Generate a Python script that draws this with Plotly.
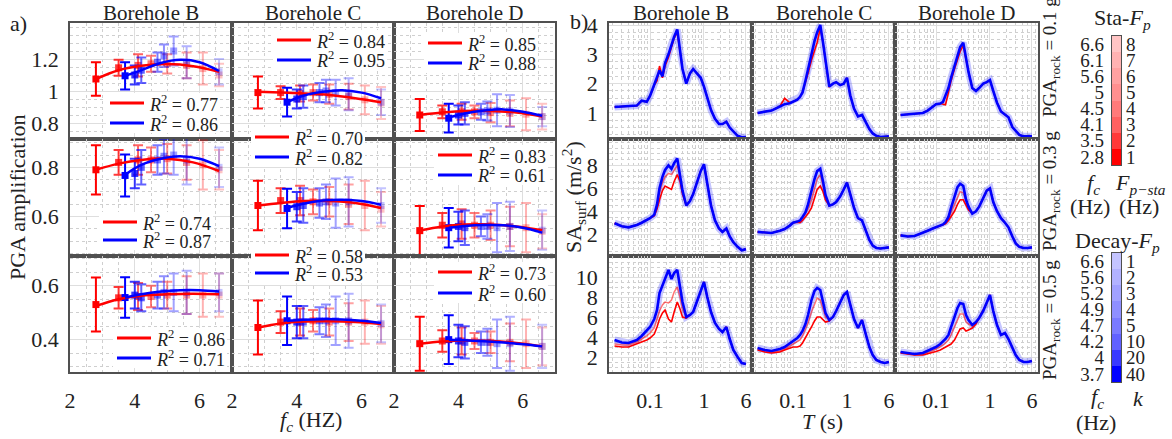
import plotly.graph_objects as go

W, H = 1172, 439
FONT = "Liberation Serif"
TXT = "#222222"

# ---------------- data: panel a) PGA amplification vs f_c ----------------
FC_STA = [2.8, 3.5, 4.1, 4.5, 5.0, 5.6, 6.1, 6.6]
FP_STA = [1, 2, 3, 4, 5, 6, 7, 8]
FC_DECAY = [3.7, 4.0, 4.2, 4.7, 4.9, 5.2, 5.6, 6.6]
K_DECAY = [40, 20, 10, 5, 4, 3, 2, 1]
BOREHOLES = ["Borehole B", "Borehole C", "Borehole D"]
PGA_ROCK = ["0.1", "0.3", "0.5"]
FIT_FC_STA = [2.8, 3.5, 4.2, 5.0, 5.8, 6.6]
FIT_FC_DECAY = [3.7, 4.2, 4.8, 5.4, 6.0, 6.6]

# PGA_rock = 0.1 g
AMP_STA_R1_B = [1.075, 1.145, 1.16, 1.17, 1.17, 1.16, 1.14, 1.10]
ERR_STA_R1_B = [0.105, 0.05, 0.07, 0.05, 0.06, 0.08, 0.10, 0.07]
AMP_DEC_R1_B = [1.095, 1.10, 1.13, 1.18, 1.22, 1.25, 1.18, 1.12]
ERR_DEC_R1_B = [0.085, 0.06, 0.08, 0.06, 0.07, 0.09, 0.10, 0.08]
FIT_STA_R1_B = [1.075, 1.13, 1.158, 1.168, 1.155, 1.12]
FIT_DEC_R1_B = [1.094, 1.13, 1.175, 1.195, 1.18, 1.125]

AMP_STA_R1_C = [0.99, 0.99, 0.985, 0.99, 0.98, 0.965, 0.945, 0.925]
ERR_STA_R1_C = [0.10, 0.04, 0.05, 0.05, 0.06, 0.08, 0.09, 0.10]
AMP_DEC_R1_C = [0.93, 0.95, 0.965, 0.99, 1.0, 0.99, 0.98, 0.93]
ERR_DEC_R1_C = [0.09, 0.06, 0.07, 0.06, 0.07, 0.08, 0.10, 0.08]
FIT_STA_R1_C = [0.995, 0.99, 0.985, 0.975, 0.955, 0.93]
FIT_DEC_R1_C = [0.93, 0.97, 0.995, 1.005, 0.99, 0.955]

AMP_STA_R1_D = [0.85, 0.87, 0.87, 0.87, 0.865, 0.86, 0.855, 0.84]
ERR_STA_R1_D = [0.10, 0.04, 0.05, 0.04, 0.06, 0.08, 0.10, 0.08]
AMP_DEC_R1_D = [0.83, 0.85, 0.86, 0.87, 0.875, 0.88, 0.875, 0.84]
ERR_DEC_R1_D = [0.09, 0.06, 0.07, 0.05, 0.06, 0.10, 0.10, 0.06]
FIT_STA_R1_D = [0.85, 0.865, 0.875, 0.875, 0.865, 0.84]
FIT_DEC_R1_D = [0.835, 0.86, 0.878, 0.885, 0.87, 0.845]

# PGA_rock = 0.3 g
AMP_STA_R2_B = [0.79, 0.82, 0.83, 0.83, 0.835, 0.82, 0.81, 0.79]
ERR_STA_R2_B = [0.10, 0.05, 0.06, 0.05, 0.06, 0.07, 0.10, 0.08]
AMP_DEC_R2_B = [0.767, 0.775, 0.80, 0.83, 0.845, 0.85, 0.83, 0.80]
ERR_DEC_R2_B = [0.085, 0.06, 0.07, 0.06, 0.07, 0.08, 0.10, 0.08]
FIT_STA_R2_B = [0.79, 0.815, 0.83, 0.835, 0.82, 0.785]
FIT_DEC_R2_B = [0.77, 0.81, 0.835, 0.845, 0.835, 0.805]

AMP_STA_R2_C = [0.645, 0.665, 0.665, 0.66, 0.66, 0.65, 0.645, 0.63]
ERR_STA_R2_C = [0.10, 0.05, 0.06, 0.05, 0.06, 0.08, 0.10, 0.07]
AMP_DEC_R2_C = [0.633, 0.64, 0.645, 0.655, 0.66, 0.655, 0.66, 0.645]
ERR_DEC_R2_C = [0.08, 0.06, 0.07, 0.06, 0.07, 0.10, 0.10, 0.07]
FIT_STA_R2_C = [0.645, 0.655, 0.663, 0.663, 0.655, 0.635]
FIT_DEC_R2_C = [0.635, 0.652, 0.665, 0.668, 0.663, 0.648]

AMP_STA_R2_D = [0.543, 0.565, 0.57, 0.565, 0.565, 0.56, 0.555, 0.54]
ERR_STA_R2_D = [0.10, 0.05, 0.06, 0.05, 0.06, 0.08, 0.10, 0.07]
AMP_DEC_R2_D = [0.555, 0.56, 0.555, 0.56, 0.56, 0.555, 0.56, 0.545]
ERR_DEC_R2_D = [0.08, 0.06, 0.07, 0.04, 0.05, 0.10, 0.10, 0.08]
FIT_STA_R2_D = [0.543, 0.56, 0.568, 0.568, 0.56, 0.545]
FIT_DEC_R2_D = [0.555, 0.562, 0.566, 0.565, 0.555, 0.535]

# PGA_rock = 0.5 g
AMP_STA_R3_B = [0.53, 0.555, 0.56, 0.56, 0.565, 0.565, 0.565, 0.565]
ERR_STA_R3_B = [0.10, 0.04, 0.05, 0.04, 0.05, 0.07, 0.08, 0.08]
AMP_DEC_R3_B = [0.556, 0.565, 0.555, 0.565, 0.575, 0.575, 0.575, 0.575]
ERR_DEC_R3_B = [0.075, 0.05, 0.05, 0.05, 0.06, 0.07, 0.08, 0.07]
FIT_STA_R3_B = [0.525, 0.55, 0.563, 0.568, 0.57, 0.568]
FIT_DEC_R3_B = [0.555, 0.568, 0.578, 0.583, 0.583, 0.578]

AMP_STA_R3_C = [0.445, 0.465, 0.465, 0.47, 0.465, 0.465, 0.465, 0.455]
ERR_STA_R3_C = [0.10, 0.04, 0.05, 0.04, 0.05, 0.07, 0.08, 0.07]
AMP_DEC_R3_C = [0.47, 0.465, 0.465, 0.47, 0.47, 0.47, 0.47, 0.46]
ERR_DEC_R3_C = [0.09, 0.06, 0.06, 0.05, 0.06, 0.09, 0.10, 0.07]
FIT_STA_R3_C = [0.445, 0.46, 0.467, 0.468, 0.465, 0.458]
FIT_DEC_R3_C = [0.47, 0.474, 0.476, 0.475, 0.47, 0.462]

AMP_STA_R3_D = [0.385, 0.395, 0.395, 0.395, 0.39, 0.39, 0.385, 0.375]
ERR_STA_R3_D = [0.10, 0.04, 0.05, 0.03, 0.04, 0.07, 0.09, 0.07]
AMP_DEC_R3_D = [0.40, 0.395, 0.39, 0.39, 0.39, 0.385, 0.385, 0.375]
ERR_DEC_R3_D = [0.09, 0.06, 0.06, 0.04, 0.05, 0.09, 0.10, 0.08]
FIT_STA_R3_D = [0.385, 0.393, 0.397, 0.395, 0.388, 0.375]
FIT_DEC_R3_D = [0.40, 0.398, 0.394, 0.389, 0.383, 0.375]

R2_STA_R1 = [0.77, 0.84, 0.85]
R2_DEC_R1 = [0.86, 0.95, 0.88]
R2_STA_R2 = [0.74, 0.70, 0.83]
R2_DEC_R2 = [0.87, 0.82, 0.61]
R2_STA_R3 = [0.86, 0.58, 0.73]
R2_DEC_R3 = [0.71, 0.53, 0.60]

# ---------------- data: panel b) surface spectra ----------------
T_GRID = [0.022, 0.03, 0.04, 0.057, 0.07, 0.087, 0.1, 0.12, 0.135, 0.15, 0.17, 0.19,
          0.22, 0.25, 0.28, 0.32, 0.36, 0.4, 0.47, 0.55, 0.63, 0.75, 0.87, 1.0,
          1.15, 1.35, 1.6, 1.9, 2.2, 2.6, 3.0, 3.5, 4.2, 5.0, 6.0]

SA_R1_B_DEC = [1.20, 1.21, 1.22, 1.25, 1.42, 1.38, 1.58, 1.95, 2.2, 2.45, 2.25, 2.7, 3.0, 3.35, 3.6, 3.85, 3.1, 2.5,
               2.0, 2.35, 2.5, 2.35, 2.2, 1.9, 1.5, 1.1, 0.8, 0.62, 0.62, 0.7, 0.5, 0.36, 0.22, 0.17, 0.18]
SA_R1_B_STA1 = [1.20, 1.21, 1.22, 1.25, 1.42, 1.38, 1.58, 1.95, 2.1, 2.6, 2.2, 2.6, 2.9, 3.3, 3.55, 3.75, 3.1, 2.5,
                2.0, 2.35, 2.5, 2.35, 2.2, 1.9, 1.5, 1.1, 0.8, 0.62, 0.62, 0.7, 0.5, 0.36, 0.22, 0.17, 0.18]
SA_R1_C_DEC = [1.0, 1.03, 1.08, 1.22, 1.3, 1.33, 1.38, 1.45, 1.55, 1.7, 2.1, 2.5, 3.1, 3.45, 3.75, 4.0, 3.4, 2.75,
               1.9, 2.0, 2.05, 1.95, 2.0, 2.2, 1.6, 1.15, 0.88, 0.93, 0.7, 0.45, 0.3, 0.22, 0.18, 0.18, 0.2]
SA_R1_C_STA1 = [1.0, 1.03, 1.08, 1.22, 1.5, 1.35, 1.38, 1.45, 1.55, 1.7, 2.1, 2.35, 2.8, 3.1, 3.4, 3.9, 3.4, 2.75,
                1.9, 2.0, 2.05, 1.95, 2.0, 2.2, 1.6, 1.15, 0.88, 0.93, 0.7, 0.45, 0.3, 0.22, 0.18, 0.18, 0.2]
SA_R1_D_DEC = [0.93, 0.95, 0.97, 1.0, 1.08, 1.22, 1.3, 1.32, 1.38, 1.6, 1.85, 2.2, 2.6, 2.95, 3.25, 3.4, 2.8, 2.4,
               1.85, 1.75, 1.85, 2.0, 2.05, 2.12, 1.75, 1.35, 1.05, 0.95, 0.85, 0.52, 0.38, 0.25, 0.2, 0.2, 0.2]
SA_R1_D_STA1 = [0.93, 0.95, 0.97, 1.0, 1.08, 1.22, 1.3, 1.32, 1.3, 1.28, 1.7, 2.1, 2.5, 2.85, 3.1, 3.3, 2.8, 2.4,
                1.85, 1.75, 1.85, 2.0, 2.05, 2.12, 1.75, 1.35, 1.05, 0.95, 0.85, 0.52, 0.38, 0.25, 0.2, 0.2, 0.2]

SA_R2_B_DEC = [2.96, 2.7, 2.6, 2.8, 3.0, 3.2, 3.4, 3.7, 4.6, 6.0, 7.0, 7.6, 8.0, 7.7, 8.2, 8.6, 7.2, 5.8,
               4.5, 4.9, 5.5, 6.5, 7.5, 8.1, 6.4, 4.5, 3.2, 2.5, 2.2, 2.5, 1.8, 1.3, 0.9, 0.6, 0.7]
SA_R2_B_STA1 = [2.96, 2.7, 2.6, 2.8, 3.0, 3.2, 3.4, 3.6, 4.2, 5.0, 5.8, 6.2, 6.0, 5.9, 6.6, 7.2, 6.6, 5.5,
                4.5, 4.9, 5.5, 6.5, 7.5, 8.1, 6.4, 4.5, 3.2, 2.5, 2.2, 2.5, 1.8, 1.3, 0.9, 0.6, 0.7]
SA_R2_B_STA2 = [2.96, 2.7, 2.6, 2.8, 3.0, 3.2, 3.4, 3.7, 4.5, 5.6, 6.5, 7.0, 7.3, 7.2, 7.6, 8.0, 7.0, 5.7,
                4.5, 4.9, 5.5, 6.5, 7.5, 8.1, 6.4, 4.5, 3.2, 2.5, 2.2, 2.5, 1.8, 1.3, 0.9, 0.6, 0.7]
SA_R2_C_DEC = [2.2, 2.15, 2.1, 2.3, 2.45, 2.75, 3.0, 3.1, 3.2, 3.5, 3.9, 4.6, 5.8, 6.8, 7.5, 7.7, 6.6, 5.4,
               4.5, 4.6, 4.8, 5.3, 5.9, 6.5, 5.5, 4.3, 3.4, 3.2, 2.4, 1.5, 1.0, 0.8, 0.75, 0.8, 0.85]
SA_R2_C_STA1 = [2.2, 2.15, 2.1, 2.3, 2.45, 2.75, 3.0, 3.05, 3.0, 3.2, 3.5, 3.8, 4.3, 5.2, 5.9, 6.2, 5.7, 5.0,
                4.5, 4.6, 4.8, 5.3, 5.9, 6.5, 5.5, 4.3, 3.4, 3.2, 2.4, 1.5, 1.0, 0.8, 0.75, 0.8, 0.85]
SA_R2_C_STA2 = [2.2, 2.15, 2.1, 2.3, 2.45, 2.75, 3.0, 3.1, 3.15, 3.4, 3.8, 4.2, 5.0, 6.0, 6.8, 7.2, 6.3, 5.3,
                4.5, 4.6, 4.8, 5.3, 5.9, 6.5, 5.5, 4.3, 3.4, 3.2, 2.4, 1.5, 1.0, 0.8, 0.75, 0.8, 0.85]
SA_R2_D_DEC = [1.9, 1.8, 1.85, 2.1, 2.3, 2.5, 2.6, 2.75, 2.85, 3.05, 3.5, 4.3, 5.3, 6.1, 6.4, 6.2, 5.0, 4.4,
               3.8, 4.0, 4.4, 5.1, 5.8, 6.0, 4.8, 4.0, 3.4, 3.0, 2.6, 1.8, 1.2, 0.9, 0.8, 0.8, 0.85]
SA_R2_D_STA1 = [1.9, 1.8, 1.85, 2.1, 2.3, 2.5, 2.6, 2.75, 2.8, 2.9, 3.2, 3.5, 4.0, 4.6, 5.0, 5.0, 4.5, 4.1,
                3.8, 4.0, 4.4, 5.1, 5.8, 6.0, 4.8, 4.0, 3.4, 3.0, 2.6, 1.8, 1.2, 0.9, 0.8, 0.8, 0.85]
SA_R2_D_STA2 = [1.9, 1.8, 1.85, 2.1, 2.3, 2.5, 2.6, 2.75, 2.85, 3.0, 3.35, 3.9, 4.6, 5.3, 5.7, 5.6, 4.8, 4.3,
                3.8, 4.0, 4.4, 5.1, 5.8, 6.0, 4.8, 4.0, 3.4, 3.0, 2.6, 1.8, 1.2, 0.9, 0.8, 0.8, 0.85]

SA_R3_B_DEC = [3.7, 3.45, 3.4, 3.7, 4.1, 4.6, 5.0, 5.8, 6.7, 8.4, 9.2, 9.7, 10.7, 9.8, 10.4, 10.7, 9.0, 7.5,
               6.0, 6.2, 6.5, 7.6, 8.6, 9.5, 8.0, 6.5, 5.4, 4.8, 4.5, 5.0, 3.8, 2.7, 2.0, 1.4, 1.3]
SA_R3_B_STA1 = [3.1, 3.0, 3.0, 3.3, 3.5, 3.7, 3.9, 4.3, 5.0, 5.8, 6.4, 6.7, 5.8, 5.5, 6.5, 7.5, 6.8, 6.0,
                5.9, 6.2, 6.5, 7.6, 8.6, 9.5, 8.0, 6.5, 5.4, 4.8, 4.5, 5.0, 3.8, 2.7, 2.0, 1.4, 1.3]
SA_R3_B_STA2 = [3.3, 3.2, 3.2, 3.5, 3.8, 4.1, 4.4, 4.9, 5.8, 6.6, 7.2, 7.5, 7.4, 7.7, 8.5, 9.0, 8.0, 6.8,
                6.0, 6.2, 6.5, 7.6, 8.6, 9.5, 8.0, 6.5, 5.4, 4.8, 4.5, 5.0, 3.8, 2.7, 2.0, 1.4, 1.3]
SA_R3_C_DEC = [2.9, 2.7, 2.6, 2.8, 3.0, 3.35, 3.6, 3.9, 4.2, 4.6, 5.3, 6.2, 7.7, 8.6, 8.9, 8.7, 7.5, 6.4,
               5.7, 6.0, 6.6, 7.4, 8.2, 8.5, 7.2, 5.8, 4.9, 5.7, 4.4, 3.0, 2.2, 1.7, 1.5, 1.4, 1.5]
SA_R3_C_STA1 = [2.7, 2.5, 2.4, 2.5, 2.7, 2.9, 3.0, 3.0, 3.1, 3.4, 3.9, 4.4, 5.0, 5.6, 6.0, 6.0, 5.7, 5.5,
                5.6, 6.0, 6.6, 7.4, 8.2, 8.5, 7.2, 5.8, 4.9, 5.7, 4.4, 3.0, 2.2, 1.7, 1.5, 1.4, 1.5]
SA_R3_C_STA2 = [2.8, 2.6, 2.5, 2.6, 2.8, 3.1, 3.3, 3.5, 3.7, 4.1, 4.7, 5.4, 6.5, 7.3, 7.9, 7.7, 6.8, 6.0,
                5.7, 6.0, 6.6, 7.4, 8.2, 8.5, 7.2, 5.8, 4.9, 5.7, 4.4, 3.0, 2.2, 1.7, 1.5, 1.4, 1.5]
SA_R3_D_DEC = [2.5, 2.4, 2.3, 2.4, 2.6, 2.85, 3.0, 3.3, 3.55, 3.8, 4.2, 4.9, 6.0, 6.9, 7.4, 7.3, 6.2, 5.7,
               5.2, 5.5, 5.9, 6.6, 7.4, 8.2, 6.6, 5.2, 4.2, 4.4, 3.8, 2.9, 2.2, 1.7, 1.5, 1.5, 1.6]
SA_R3_D_STA1 = [2.4, 2.3, 2.2, 2.2, 2.3, 2.45, 2.55, 2.7, 2.85, 2.95, 3.1, 3.3, 3.7, 4.3, 4.8, 4.9, 4.6, 4.7,
                4.9, 5.3, 5.9, 6.6, 7.4, 8.2, 6.6, 5.2, 4.2, 4.4, 3.8, 2.9, 2.2, 1.7, 1.5, 1.5, 1.6]
SA_R3_D_STA2 = [2.45, 2.35, 2.25, 2.3, 2.45, 2.65, 2.8, 3.0, 3.2, 3.4, 3.7, 4.2, 5.0, 5.8, 6.3, 6.3, 5.5, 5.3,
                5.1, 5.5, 5.9, 6.6, 7.4, 8.2, 6.6, 5.2, 4.2, 4.4, 3.8, 2.9, 2.2, 1.7, 1.5, 1.5, 1.6]

# ---------------- tables built from the named arrays ----------------
A_DATA = [
    [(AMP_STA_R1_B, ERR_STA_R1_B, AMP_DEC_R1_B, ERR_DEC_R1_B, FIT_STA_R1_B, FIT_DEC_R1_B),
     (AMP_STA_R1_C, ERR_STA_R1_C, AMP_DEC_R1_C, ERR_DEC_R1_C, FIT_STA_R1_C, FIT_DEC_R1_C),
     (AMP_STA_R1_D, ERR_STA_R1_D, AMP_DEC_R1_D, ERR_DEC_R1_D, FIT_STA_R1_D, FIT_DEC_R1_D)],
    [(AMP_STA_R2_B, ERR_STA_R2_B, AMP_DEC_R2_B, ERR_DEC_R2_B, FIT_STA_R2_B, FIT_DEC_R2_B),
     (AMP_STA_R2_C, ERR_STA_R2_C, AMP_DEC_R2_C, ERR_DEC_R2_C, FIT_STA_R2_C, FIT_DEC_R2_C),
     (AMP_STA_R2_D, ERR_STA_R2_D, AMP_DEC_R2_D, ERR_DEC_R2_D, FIT_STA_R2_D, FIT_DEC_R2_D)],
    [(AMP_STA_R3_B, ERR_STA_R3_B, AMP_DEC_R3_B, ERR_DEC_R3_B, FIT_STA_R3_B, FIT_DEC_R3_B),
     (AMP_STA_R3_C, ERR_STA_R3_C, AMP_DEC_R3_C, ERR_DEC_R3_C, FIT_STA_R3_C, FIT_DEC_R3_C),
     (AMP_STA_R3_D, ERR_STA_R3_D, AMP_DEC_R3_D, ERR_DEC_R3_D, FIT_STA_R3_D, FIT_DEC_R3_D)],
]
R2_TABLE = [(R2_STA_R1, R2_DEC_R1), (R2_STA_R2, R2_DEC_R2), (R2_STA_R3, R2_DEC_R3)]
B_DATA = [
    [(SA_R1_B_DEC, SA_R1_B_STA1, None), (SA_R1_C_DEC, SA_R1_C_STA1, None), (SA_R1_D_DEC, SA_R1_D_STA1, None)],
    [(SA_R2_B_DEC, SA_R2_B_STA1, SA_R2_B_STA2), (SA_R2_C_DEC, SA_R2_C_STA1, SA_R2_C_STA2),
     (SA_R2_D_DEC, SA_R2_D_STA1, SA_R2_D_STA2)],
    [(SA_R3_B_DEC, SA_R3_B_STA1, SA_R3_B_STA2), (SA_R3_C_DEC, SA_R3_C_STA1, SA_R3_C_STA2),
     (SA_R3_D_DEC, SA_R3_D_STA1, SA_R3_D_STA2)],
]

# ---------------- layout geometry (pixels) ----------------
A_COLS = [(70, 232), (232, 394), (394, 555)]
B_COLS = [(609, 752), (752, 895), (895, 1038)]
ROWS = [(23, 139), (139, 256), (256, 372)]
A_YRANGE = [[0.7, 1.425], [0.44, 0.915], [0.28, 0.71]]
A_YTICKS = [[0.8, 1.0, 1.2], [0.6, 0.8], [0.4, 0.6]]
A_YTEXT = [["0.8", "1", "1.2"], ["0.6", "0.8"], ["0.4", "0.6"]]
B_YRANGE = [[0.11, 4.07], [0.1, 10.3], [0.5, 12.1]]
B_YTICKS = [[1, 2, 3, 4], [2, 4, 6, 8], [2, 4, 6, 8, 10]]
B_YMINOR = [0.25, 0.5, 0.5]
# legend anchor (line start x, red y, blue y) per panel
LEG_POS = [[(110, 103, 123), (277, 40, 60), (428, 43, 63)],
           [(103, 222, 240), (255, 137, 157), (438, 155, 175)],
           [(117, 338, 358), (255, 255, 273), (438, 272, 293)]]
ROCK_LABEL_Y = [57, 191, 320]

SHADE = [1.0, 0.78, 0.62, 0.52, 0.44, 0.37, 0.30, 0.23]


def px(x):
    return x / W


def py(y):
    return 1 - y / H


def red(a):
    return f"rgba(255,0,0,{a})"


def blue(a):
    return f"rgba(0,0,255,{a})"


def red_solid(a):
    v = int(round(255 * (1 - a)))
    return f"rgb(255,{v},{v})"


def blue_solid(a):
    v = int(round(255 * (1 - a)))
    return f"rgb({v},{v},255)"


def axname(n):
    return ("x" if n == 1 else f"x{n}"), ("y" if n == 1 else f"y{n}")


def laykey(n):
    return ("xaxis" if n == 1 else f"xaxis{n}"), ("yaxis" if n == 1 else f"yaxis{n}")


BASE = dict(showline=True, mirror=True, linecolor="#505050", linewidth=1.5, ticks="",
            zeroline=False, showgrid=True, gridcolor="#dedede", gridwidth=1,
            tickfont=dict(family=FONT, size=22, color=TXT))

fig = go.Figure()
layout_axes = {}

# ---------------- panel a ----------------
for r in range(3):
    for c in range(3):
        n = r * 3 + c + 1
        xa, ya = axname(n)
        xk, yk = laykey(n)
        sta_amp, sta_err, dec_amp, dec_err, fit_sta, fit_dec = A_DATA[r][c]
        for j in reversed(range(8)):
            col = red(SHADE[j])
            fig.add_trace(go.Scatter(
                x=[FC_STA[j]], y=[sta_amp[j]], xaxis=xa, yaxis=ya, mode="markers",
                marker=dict(symbol="square", size=7, color=col, line=dict(width=0)),
                error_y=dict(type="data", array=[sta_err[j]], color=col, thickness=2, width=5),
                showlegend=False, hoverinfo="skip"))
        for j in reversed(range(8)):
            col = blue(SHADE[j])
            fig.add_trace(go.Scatter(
                x=[FC_DECAY[j]], y=[dec_amp[j]], xaxis=xa, yaxis=ya, mode="markers",
                marker=dict(symbol="square", size=7, color=col, line=dict(width=0)),
                error_y=dict(type="data", array=[dec_err[j]], color=col, thickness=2, width=5),
                showlegend=False, hoverinfo="skip"))
        fig.add_trace(go.Scatter(x=FIT_FC_STA, y=fit_sta, xaxis=xa, yaxis=ya, mode="lines",
                                 line=dict(color="#ff0000", width=2.5, shape="spline"),
                                 showlegend=False, hoverinfo="skip"))
        fig.add_trace(go.Scatter(x=FIT_FC_DECAY, y=fit_dec, xaxis=xa, yaxis=ya, mode="lines",
                                 line=dict(color="#0000ff", width=2.5, shape="spline"),
                                 showlegend=False, hoverinfo="skip"))
        x0, x1 = A_COLS[c]
        y0, y1 = ROWS[r]
        xd = dict(BASE, domain=[px(x0), px(x1)], anchor=ya, range=[2, 7],
                  tickvals=[2, 4, 6], ticktext=["2", "4", "6"], showticklabels=(r == 2),
                  ticklabelstandoff=8,
                  minor=dict(tickmode="linear", tick0=2, dtick=0.5, showgrid=True, griddash="dot",
                             gridcolor="#cfcfcf", gridwidth=1))
        yd = dict(BASE, domain=[py(y1), py(y0)], anchor=xa, range=A_YRANGE[r],
                  tickvals=A_YTICKS[r], ticktext=A_YTEXT[r], showticklabels=(c == 0),
                  ticklabelstandoff=5,
                  minor=dict(tickmode="linear", tick0=0, dtick=0.05, showgrid=True, griddash="dot",
                             gridcolor="#cfcfcf", gridwidth=1))
        layout_axes[xk] = xd
        layout_axes[yk] = yd

# ---------------- panel b ----------------
for r in range(3):
    for c in range(3):
        n = 10 + r * 3 + c
        xa, ya = axname(n)
        xk, yk = laykey(n)
        dec, sta1, sta2 = B_DATA[r][c]
        fig.add_trace(go.Scatter(x=T_GRID, y=dec, xaxis=xa, yaxis=ya, mode="lines",
                                 line=dict(color="rgba(90,90,255,0.35)", width=7),
                                 showlegend=False, hoverinfo="skip"))
        if sta2 is not None:
            fig.add_trace(go.Scatter(x=T_GRID, y=sta2, xaxis=xa, yaxis=ya, mode="lines",
                                     line=dict(color=red(0.55), width=1.5),
                                     showlegend=False, hoverinfo="skip"))
        fig.add_trace(go.Scatter(x=T_GRID, y=sta1, xaxis=xa, yaxis=ya, mode="lines",
                                 line=dict(color="#ff0000", width=1.6),
                                 showlegend=False, hoverinfo="skip"))
        fig.add_trace(go.Scatter(x=T_GRID, y=dec, xaxis=xa, yaxis=ya, mode="lines",
                                 line=dict(color="#0000ff", width=2.6),
                                 showlegend=False, hoverinfo="skip"))
        x0, x1 = B_COLS[c]
        y0, y1 = ROWS[r]
        xd = dict(BASE, domain=[px(x0), px(x1)], anchor=ya, type="log", range=[-1.76, 0.89],
                  tickvals=[0.1, 1, 6], ticktext=["0.1", "1", "6"], showticklabels=(r == 2),
                  ticklabelstandoff=8,
                  minor=dict(dtick="D1", showgrid=True, griddash="dot", gridcolor="#cfcfcf", gridwidth=1))
        yd = dict(BASE, domain=[py(y1), py(y0)], anchor=xa, range=B_YRANGE[r],
                  tickvals=B_YTICKS[r], ticktext=[str(v) for v in B_YTICKS[r]],
                  showticklabels=(c == 0), ticklabelstandoff=5,
                  minor=dict(tickmode="linear", tick0=0, dtick=B_YMINOR[r], showgrid=True,
                             griddash="dot", gridcolor="#cfcfcf", gridwidth=1))
        layout_axes[xk] = xd
        layout_axes[yk] = yd

# ---------------- colour keys ----------------
STA_LEFT = [str(v) if v != 5.0 else "5" for v in FC_STA]
STA_RIGHT = [str(v) for v in FP_STA]
DEC_LEFT = [("4" if v == 4.0 else str(v)) for v in FC_DECAY]
DEC_RIGHT = [str(v) for v in K_DECAY]

keys = [
    (19, 21, (36, 165), [red_solid(a) for a in SHADE], STA_LEFT, STA_RIGHT),
    (20, 22, (253, 382), [blue_solid(a) for a in SHADE], DEC_LEFT, DEC_RIGHT),
]
for n, n2, (ky0, ky1), cols, left, right in keys:
    xa, ya = axname(n)
    _, ya2 = axname(n2)
    xk, yk = laykey(n)
    _, yk2 = laykey(n2)
    cs = [[k / 7, cols[k]] for k in range(8)]
    zz = [[k] for k in range(8)]
    for yax in (ya, ya2):
        fig.add_trace(go.Heatmap(z=zz, x=[0], y=list(range(8)), xaxis=xa, yaxis=yax,
                                 colorscale=cs, zmin=0, zmax=7, showscale=False, hoverinfo="skip"))
    layout_axes[xk] = dict(domain=[px(1112), px(1121)], anchor=ya, range=[-0.5, 0.5],
                           showticklabels=False, showgrid=False, zeroline=False, ticks="",
                           showline=True, mirror=True, linecolor="#505050", linewidth=1.2)
    layout_axes[yk] = dict(domain=[py(ky1), py(ky0)], anchor=xa, range=[-0.5, 7.5],
                           tickvals=list(range(8)), ticktext=left, showgrid=False, zeroline=False,
                           ticks="", showline=True, mirror=True, linecolor="#505050", linewidth=1.2,
                           ticklabelstandoff=3, tickfont=dict(family=FONT, size=19, color=TXT))
    layout_axes[yk2] = dict(domain=[py(ky1), py(ky0)], anchor=xa, overlaying=ya, side="right",
                            range=[-0.5, 7.5], tickvals=list(range(8)), ticktext=right,
                            showgrid=False, zeroline=False, ticks="", showline=False,
                            ticklabelstandoff=4, tickfont=dict(family=FONT, size=19, color=TXT))

# ---------------- text ----------------
ann = []


def add_text(text, x, y, size=22, angle=0, xanchor="center", yanchor="middle"):
    ann.append(dict(text=text, x=px(x), y=py(y), xref="paper", yref="paper", showarrow=False,
                    textangle=angle, xanchor=xanchor, yanchor=yanchor,
                    font=dict(family=FONT, size=size, color=TXT)))


for c in range(3):
    add_text(BOREHOLES[c], (A_COLS[c][0] + A_COLS[c][1]) / 2, 13, size=21)
    add_text(BOREHOLES[c], (B_COLS[c][0] + B_COLS[c][1]) / 2, 13, size=21)
add_text("a)", 19, 24)
add_text("b)", 579, 22)
add_text("PGA amplification", 17, 197, angle=-90)
add_text("<i>f</i><sub><i>c</i></sub> (HZ)", 311, 421)
add_text("<i>T</i> (s)", 822, 421)
add_text("SA<sub>surf</sub> (m/s<sup>2</sup>)", 573, 197, angle=-90)
for r in range(3):
    add_text(f"PGA<sub>rock</sub> = {PGA_ROCK[r]} g", 1051, ROCK_LABEL_Y[r], size=19, angle=-90)
add_text("Sta-<i>F</i><sub><i>p</i></sub>", 1122, 19)
add_text("<i>f</i><sub><i>c</i></sub>", 1093, 184)
add_text("<i>F</i><sub><i>p−sta</i></sub>", 1140, 184)
add_text("(Hz)", 1090, 206)
add_text("(Hz)", 1139, 206)
add_text("Decay-<i>F</i><sub><i>p</i></sub>", 1117, 242)
add_text("<i>f</i><sub><i>c</i></sub>", 1097, 398)
add_text("<i>k</i>", 1138, 398)
add_text("(Hz)", 1096, 422)

shapes = []
for r in range(3):
    r2s, r2d = R2_TABLE[r]
    for c in range(3):
        lx, ry, by = LEG_POS[r][c]
        shapes.append(dict(type="rect", xref="paper", yref="paper", layer="above",
                           x0=px(lx - 4), x1=px(lx + 110), y0=py(ry - 10), y1=py(by + 10),
                           fillcolor="white", line=dict(width=0)))
        shapes.append(dict(type="line", xref="paper", yref="paper", layer="above",
                           x0=px(lx), x1=px(lx + 34), y0=py(ry), y1=py(ry),
                           line=dict(color="#ff0000", width=3)))
        shapes.append(dict(type="line", xref="paper", yref="paper", layer="above",
                           x0=px(lx), x1=px(lx + 34), y0=py(by), y1=py(by),
                           line=dict(color="#0000ff", width=3)))
        add_text(f"<i>R</i><sup>2</sup> = {r2s[c]:.2f}", lx + 37, ry, size=18, xanchor="left")
        add_text(f"<i>R</i><sup>2</sup> = {r2d[c]:.2f}", lx + 37, by, size=18, xanchor="left")

fig.update_layout(
    width=W, height=H, margin=dict(l=0, r=0, t=0, b=0, pad=0),
    template="none", paper_bgcolor="white", plot_bgcolor="white",
    showlegend=False, annotations=ann, shapes=shapes,
    font=dict(family=FONT, color=TXT), **layout_axes)

fig.write_html("out.html")
